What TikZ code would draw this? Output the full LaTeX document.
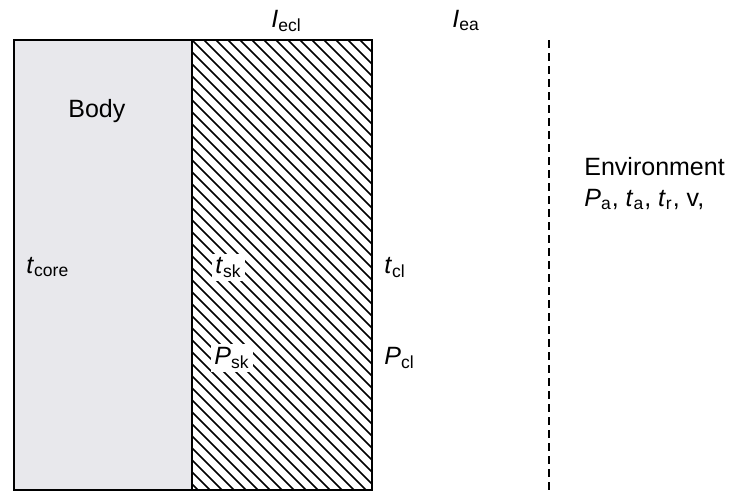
\documentclass[tikz,border=0pt]{standalone}
\usepackage{fontspec}
\setmainfont{Liberation Sans}
\definecolor{bodygray}{RGB}{232,232,236}
\newcommand{\varsub}[2]{\textit{#1}\textsubscript{#2}}
\tikzset{
  lbl/.style={anchor=base west,inner sep=0pt},
  lblw/.style={anchor=base west,inner sep=1.5pt,fill=white},
  wall/.style={line width=1.1pt}
}
\begin{document}
\begin{tikzpicture}[x=0.5pt,y=-0.5pt,font=\fontsize{12.5}{15}\selectfont]
  \useasboundingbox (0,0) rectangle (731,493);
  \fill[bodygray] (14,40) rectangle (192,490);
  \begin{scope}
    \clip (192,40) rectangle (372,490);
    \foreach \k in {-40,...,16}
      \draw[line width=0.85pt] (192+12*\k,40) -- ++(450,450);
  \end{scope}
  \draw[wall] (14,40) rectangle (372,490);
  \draw[wall] (192,40) -- (192,490);
  \draw[line width=0.7pt,dash pattern=on 4pt off 2.5pt] (549,40) -- (549,493);
  \node[lbl] (iecl) at (271,27) {\varsub{I}{ecl}};
  \node[lbl] (iea) at (452,27) {\varsub{I}{ea}};
  \node[lbl] (body) at (68,117) {Body};
  \node[lbl] (tcore) at (26,273) {\varsub{t}{core}};
  \node[lblw] (tsk) at (212,273) {\varsub{t}{sk}};
  \node[lbl] (tcl) at (384,273) {\varsub{t}{cl}};
  \node[lblw] (psk) at (211,364) {\varsub{P}{sk}};
  \node[lbl] (pcl) at (384,364) {\varsub{P}{cl}};
  \node[lbl] (env) at (584,175) {Environment};
  \node[lbl] (envvars) at (584,206) {\varsub{P}{a}, \varsub{t}{a}, \varsub{t}{r}, v,};
\end{tikzpicture}
\end{document}
